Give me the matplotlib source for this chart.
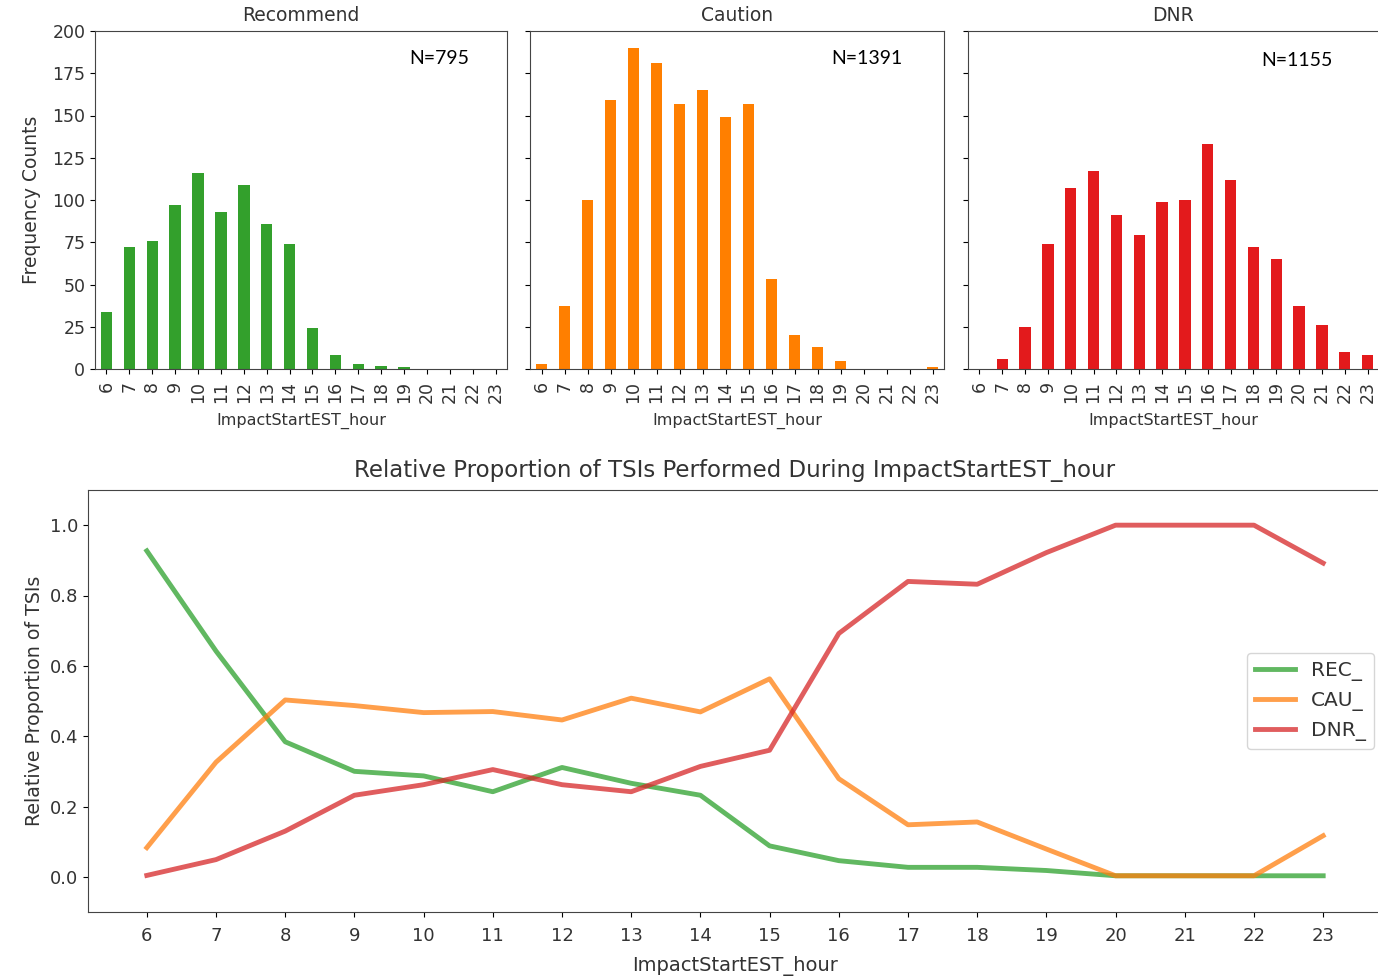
import numpy as np
import matplotlib
matplotlib.use("Agg")
import matplotlib.pyplot as plt

# --- data ---
hours = list(range(6, 24))

rec_counts = [34, 72, 76, 97, 116, 93, 109, 86, 74, 24, 8, 3, 2, 1, 0, 0, 0, 0]
cau_counts = [3, 37, 100, 159, 190, 181, 157, 165, 149, 157, 53, 20, 13, 5, 0, 0, 0, 1]
dnr_counts = [0, 6, 25, 74, 107, 117, 91, 79, 99, 100, 133, 112, 72, 65, 37, 26, 10, 8]

rec_prop = [0.927, 0.642, 0.384, 0.300, 0.287, 0.242, 0.311, 0.266, 0.232, 0.088,
            0.046, 0.027, 0.027, 0.018, 0.003, 0.003, 0.003, 0.003]
cau_prop = [0.083, 0.326, 0.503, 0.487, 0.467, 0.470, 0.446, 0.508, 0.469, 0.563,
            0.279, 0.148, 0.156, 0.079, 0.003, 0.003, 0.003, 0.117]
dnr_prop = [0.004, 0.049, 0.130, 0.232, 0.262, 0.305, 0.262, 0.242, 0.314, 0.360,
            0.692, 0.840, 0.832, 0.922, 1.000, 1.000, 1.000, 0.892]

panel_titles = ["Recommend", "Caution", "DNR"]
panel_counts = [rec_counts, cau_counts, dnr_counts]
panel_n = ["N=795", "N=1391", "N=1155"]
bar_colors = ["#33a02c", "#ff7f00", "#e31a1c"]

line_labels = ["REC_", "CAU_", "DNR_"]
line_values = [rec_prop, cau_prop, dnr_prop]
line_colors = ["#2ca02c", "#ff7f0e", "#d62728"]

W, H = 1378, 976
fig = plt.figure(figsize=(W / 100, H / 100), dpi=100)
txt = "#333333"


def box(left, top, right, bottom):
    return [left / W, 1 - bottom / H, (right - left) / W, (bottom - top) / H]


# --- 1. three bar panels ---
panel_boxes = [box(95, 31, 507, 369), box(530, 31, 944, 369), box(968, 31, 1379, 369)]
n_pos = [(0.763, 0.92), (0.727, 0.92), (0.713, 0.913)]
pos = np.arange(len(hours))

for i, (title, counts, color) in enumerate(zip(panel_titles, panel_counts, bar_colors)):
    ax = fig.add_axes(panel_boxes[i])
    ax.bar(pos, counts, width=0.5, color=color)
    ax.set_xlim(-0.5, len(hours) - 0.5)
    ax.set_ylim(0, 200)
    ax.set_yticks(range(0, 201, 25))
    ax.set_xticks(pos)
    ax.set_xticklabels([str(h) for h in hours], rotation=90, fontsize=12.5)
    ax.tick_params(axis="both", labelsize=12.5, labelcolor=txt)
    ax.tick_params(axis="x", pad=5)
    for s in ax.spines.values():
        s.set_color("#444444")
    if i > 0:
        ax.set_yticklabels([])
    else:
        ax.set_ylabel("Frequency Counts", fontsize=13.5, color=txt, labelpad=8)
    ax.set_xlabel("ImpactStartEST_hour", fontsize=11.5, labelpad=7, color=txt)
    ax.set_title(title, fontsize=13.5, pad=7, color=txt)
    ax.text(n_pos[i][0], n_pos[i][1], panel_n[i], transform=ax.transAxes,
            fontsize=14, family="Lato", va="center")

# --- 2. relative proportion line chart ---
ax2 = fig.add_axes(box(88, 490, 1382, 912))
for vals, lab, col in zip(line_values, line_labels, line_colors):
    ax2.plot(hours, vals, color=col, linewidth=3.5, alpha=0.75, label=lab)

ax2.set_xlim(5.15, 23.85)
ax2.set_ylim(-0.1, 1.1)
ax2.set_xticks(hours)
ax2.set_yticks([0.0, 0.2, 0.4, 0.6, 0.8, 1.0])
ax2.tick_params(labelsize=13, labelcolor=txt)
ax2.tick_params(axis="x", pad=7)
for s in ax2.spines.values():
    s.set_color("#444444")
ax2.set_title("Relative Proportion of TSIs Performed During ImpactStartEST_hour",
              fontsize=16.5, pad=9, color=txt)
ax2.set_xlabel("ImpactStartEST_hour", fontsize=14, labelpad=8, color=txt)
ax2.set_ylabel("Relative Proportion of TSIs", fontsize=13.7, color=txt)
leg = ax2.legend(loc="center right", fontsize=14.5, borderaxespad=0.3,
                 handlelength=2.0, bbox_to_anchor=(0.9985, 0.5))
for t in leg.get_texts():
    t.set_color(txt)

fig.savefig("out.png", dpi=100)
plt.close(fig)
